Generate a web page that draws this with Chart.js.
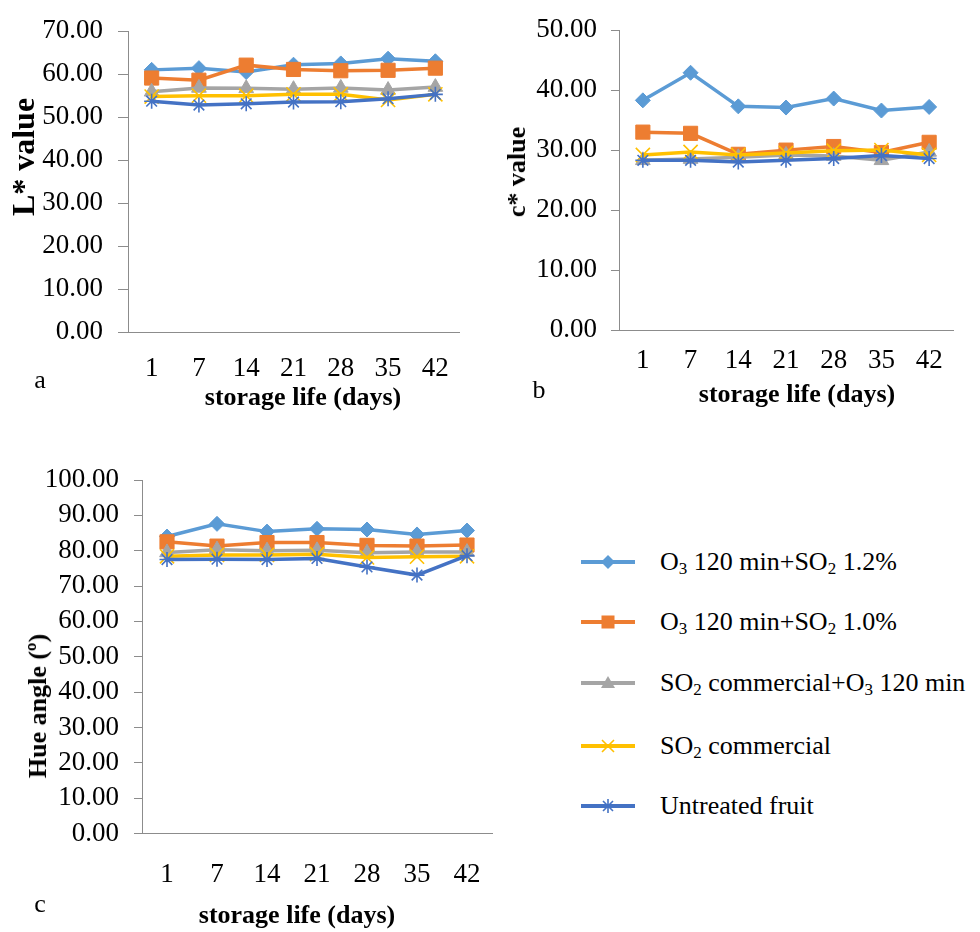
<!DOCTYPE html>
<html><head><meta charset="utf-8">
<script src="https://cdn.jsdelivr.net/npm/chart.js@4.4.1/dist/chart.umd.min.js"></script>
<style>
html,body{margin:0;padding:0;background:#fff;}
body{width:980px;height:932px;position:relative;overflow:hidden;font-family:"Liberation Serif","Times New Roman",serif;color:#000;}
canvas{position:absolute;}
.t{position:absolute;white-space:nowrap;font-size:26px;line-height:26px;}
.b{font-weight:bold;}
.c{transform:translate(-50%,-50%);}
.r{transform:translate(-50%,-50%) rotate(-90deg);}
.leg{position:absolute;left:581px;height:24px;}
.legtxt{position:absolute;left:660px;white-space:nowrap;font-size:26px;line-height:26px;transform:translateY(-50%);}
sub{font-size:17px;line-height:0;vertical-align:-4px;}
</style>
</head><body>
<canvas id="ca" width="480" height="420" style="left:0;top:0;"></canvas>
<canvas id="cb" width="490" height="420" style="left:490px;top:0;"></canvas>
<canvas id="cc" width="520" height="492" style="left:0;top:440px;"></canvas>

<div class="t b r" style="left:23px;top:157px;font-size:32px;line-height:32px;">L* value</div>
<div class="t b c" style="left:303px;top:397px;">storage life (days)</div>
<div class="t c" style="left:40px;top:380px;">a</div>

<div class="t b r" style="left:517px;top:172px;">c* value</div>
<div class="t b c" style="left:797px;top:394px;">storage life (days)</div>
<div class="t c" style="left:539px;top:390px;">b</div>

<div class="t b r" style="left:38px;top:706px;">Hue angle (º)</div>
<div class="t b c" style="left:297px;top:915px;">storage life (days)</div>
<div class="t c" style="left:40px;top:904px;">c</div>

<div id="legend"></div>

<script>
// ---- data ----
const days = ['1','7','14','21','28','35','42'];
const seriesLabels = ['O3 120 min+SO2 1.2%','O3 120 min+SO2 1.0%','SO2 commercial+O3 120 min','SO2 commercial','Untreated fruit'];
const seriesLabelsHtml = ['O<sub>3</sub> 120 min+SO<sub>2</sub> 1.2%','O<sub>3</sub> 120 min+SO<sub>2</sub> 1.0%','SO<sub>2</sub> commercial+O<sub>3</sub> 120 min','SO<sub>2</sub> commercial','Untreated fruit'];

// a: L* value
const L_O3SO2_12 = [61.0, 61.4, 60.5, 62.2, 62.5, 63.6, 63.0];
const L_O3SO2_10 = [59.1, 58.6, 62.1, 61.1, 60.8, 60.9, 61.4];
const L_SO2cO3   = [55.9, 56.8, 56.7, 56.5, 56.8, 56.3, 57.0];
const L_SO2c     = [54.8, 55.0, 55.0, 55.3, 55.3, 54.0, 55.3];
const L_Untreat  = [53.7, 52.8, 53.1, 53.5, 53.6, 54.3, 55.3];

// b: c* value
const C_O3SO2_12 = [38.3, 42.9, 37.3, 37.1, 38.6, 36.6, 37.2];
const C_O3SO2_10 = [33.0, 32.8, 29.3, 30.0, 30.6, 29.6, 31.3];
const C_SO2cO3   = [28.3, 28.5, 28.8, 29.2, 29.0, 28.3, 29.7];
const C_SO2c     = [29.2, 29.7, 29.2, 29.5, 29.9, 30.0, 29.2];
const C_Untreat  = [28.3, 28.3, 28.0, 28.3, 28.6, 29.1, 28.6];

// c: Hue angle
const H_O3SO2_12 = [84.0, 87.6, 85.4, 86.2, 86.0, 84.6, 85.7];
const H_O3SO2_10 = [82.5, 81.3, 82.3, 82.3, 81.5, 81.3, 81.6];
const H_SO2cO3   = [79.5, 80.3, 80.0, 80.1, 79.4, 79.6, 79.6];
const H_SO2c     = [78.4, 78.8, 78.8, 79.0, 78.1, 78.3, 78.4];
const H_Untreat  = [77.5, 77.6, 77.5, 77.8, 75.4, 73.1, 78.6];

const yMaxA = 70, yMaxB = 50, yMaxC = 100;

// ---- styles ----
const FONT = '"Liberation Serif","Times New Roman",serif';
const AX = '#8c8c8c';
const colors = ['#5B9BD5','#ED7D31','#A5A5A5','#FFC000','#4472C4'];
const pStyles = ['rectRot','rect','triangle','crossRot','star'];
const pRadius = [7.5, 10, 8.5, 10, 7.5];
const pBorder = [1, 1, 1, 1.6, 1.6];

function makeDatasets(arrs){
  return arrs.map((d,i)=>({
    label: seriesLabels[i], data: d,
    borderColor: colors[i], backgroundColor: colors[i],
    pointBackgroundColor: colors[i], pointBorderColor: colors[i],
    pointStyle: pStyles[i], pointRadius: pRadius[i], pointHoverRadius: pRadius[i],
    pointBorderWidth: pBorder[i], borderWidth: 3.5, tension: 0, order: 5 - i, clip: false
  }));
}

function makeChart(id, arrs, ymax, g){
  return new Chart(document.getElementById(id), {
    type: 'line',
    data: { labels: days, datasets: makeDatasets(arrs) },
    options: {
      responsive: false, animation: false, events: [],
      layout: { padding: g.pad },
      plugins: { legend: { display: false }, tooltip: { enabled: false } },
      scales: {
        x: {
          offset: true,
          grid: { display: false, drawTicks: false },
          border: { display: true, color: AX, width: 1 },
          ticks: { font: { family: FONT, size: 27 }, color: '#000', padding: g.xpad, autoSkip: false, maxRotation: 0 },
          afterFit: s => { s.height = g.xh; }
        },
        y: {
          min: 0, max: ymax,
          grid: { display: true, drawOnChartArea: false, drawTicks: true, tickLength: g.tl, color: AX },
          border: { display: true, color: AX, width: 1 },
          ticks: { stepSize: 10, autoSkip: false, callback: v => Number(v).toFixed(2), font: { family: FONT, size: 27 }, color: '#000', padding: g.ypad },
          afterFit: s => { s.width = g.yw; }
        }
      }
    }
  });
}

makeChart('ca', [L_O3SO2_12, L_O3SO2_10, L_SO2cO3, L_SO2c, L_Untreat], yMaxA,
  { pad: { left: 0, top: 22, right: 21, bottom: 0 }, yw: 128, xh: 88, xpad: 21, tl: 10, ypad: 15 });
makeChart('cb', [C_O3SO2_12, C_O3SO2_10, C_SO2cO3, C_SO2c, C_Untreat], yMaxB,
  { pad: { left: 0, top: 15, right: 27, bottom: 0 }, yw: 129, xh: 90, xpad: 15, tl: 8, ypad: 14 });
makeChart('cc', [H_O3SO2_12, H_O3SO2_10, H_SO2cO3, H_SO2c, H_Untreat], yMaxC,
  { pad: { left: 0, top: 40, right: 28, bottom: 0 }, yw: 142, xh: 98.5, xpad: 25, tl: 8, ypad: 15 });

// ---- legend (HTML, with subscripts) ----
const legendRowsY = [561.7, 621.7, 683.3, 746, 806];
function markerSvg(i){
  const c = colors[i], cx = 27, cy = 12;
  switch (pStyles[i]) {
    case 'rectRot': return `<polygon points="${cx},${cy-7} ${cx+7},${cy} ${cx},${cy+7} ${cx-7},${cy}" fill="${c}"/>`;
    case 'rect': return `<rect x="${cx-6.5}" y="${cy-6.5}" width="13" height="13" fill="${c}"/>`;
    case 'triangle': return `<polygon points="${cx},${cy-7} ${cx+7},${cy+5} ${cx-7},${cy+5}" fill="${c}"/>`;
    case 'crossRot': return `<path d="M${cx-6},${cy-6}L${cx+6},${cy+6}M${cx+6},${cy-6}L${cx-6},${cy+6}" stroke="${c}" stroke-width="1.6"/>`;
    default: return `<path d="M${cx-5},${cy-5}L${cx+5},${cy+5}M${cx+5},${cy-5}L${cx-5},${cy+5}M${cx},${cy-7}L${cx},${cy+7}" stroke="${c}" stroke-width="1.6"/>`;
  }
}
const leg = document.getElementById('legend');
let html = '';
seriesLabelsHtml.forEach((lab, i) => {
  const y = legendRowsY[i];
  html += `<svg class="leg" width="55" height="24" style="top:${y-12}px"><line x1="0" y1="12" x2="54" y2="12" stroke="${colors[i]}" stroke-width="4"/>${markerSvg(i)}</svg>`;
  html += `<div class="legtxt" style="top:${y}px">${lab}</div>`;
});
leg.innerHTML = html;
</script>
</body></html>
